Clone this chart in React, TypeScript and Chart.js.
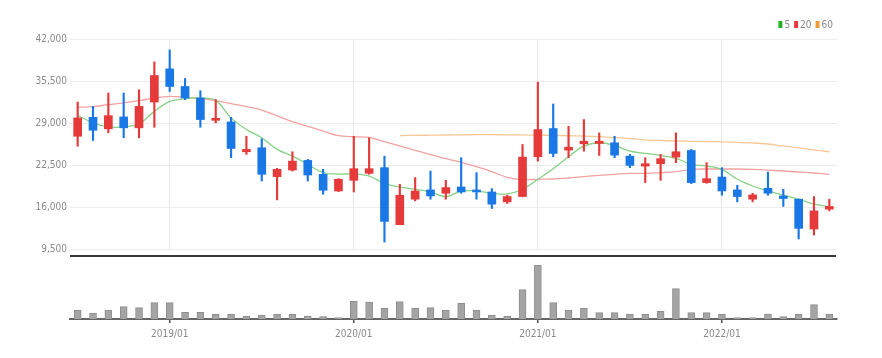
import { useEffect, useRef } from 'react';
import { Chart, registerables } from 'chart.js';

Chart.register(...registerables);

const months = [
  '2018/07', '2018/08', '2018/09', '2018/10', '2018/11', '2018/12',
  '2019/01', '2019/02', '2019/03', '2019/04', '2019/05', '2019/06', '2019/07', '2019/08', '2019/09', '2019/10', '2019/11', '2019/12',
  '2020/01', '2020/02', '2020/03', '2020/04', '2020/05', '2020/06', '2020/07', '2020/08', '2020/09', '2020/10', '2020/11', '2020/12',
  '2021/01', '2021/02', '2021/03', '2021/04', '2021/05', '2021/06', '2021/07', '2021/08', '2021/09', '2021/10', '2021/11', '2021/12',
  '2022/01', '2022/02', '2022/03', '2022/04', '2022/05', '2022/06', '2022/07', '2022/08',
];

const opens = [26950, 29880, 28090, 29940, 28250, 32250, 37380, 34650, 32870, 29420, 29170, 24550, 25170, 20700, 21720, 23210, 21060, 18480, 20130, 21210, 22090, 13260, 17210, 18640, 18130, 19100, 18640, 18330, 16790, 17620, 23780, 28140, 24800, 25780, 25830, 25940, 23870, 22330, 22700, 23720, 24750, 19780, 20640, 18640, 17210, 18900, 17710, 17210, 12590, 15670];
const closes = [29790, 27880, 30140, 28250, 31570, 36350, 34650, 32870, 29530, 29680, 25060, 24910, 21060, 21830, 23100, 20950, 18590, 20290, 21930, 21930, 13770, 17820, 18480, 17710, 19010, 18330, 18330, 16440, 17620, 23720, 27990, 24290, 25260, 26180, 26180, 24030, 22440, 22700, 23470, 24550, 19780, 20390, 18480, 17620, 17870, 18130, 17310, 12690, 15400, 16080];
const highs = [32250, 31570, 33640, 33640, 34150, 38460, 40310, 35890, 33990, 32610, 29880, 26950, 26550, 21980, 24550, 23370, 21830, 20390, 26950, 26710, 23870, 19520, 20550, 21560, 20130, 23630, 21320, 18850, 17830, 25680, 35330, 31940, 28490, 29530, 27480, 26950, 24140, 23630, 24140, 27480, 24910, 22860, 22090, 19360, 18130, 21410, 18750, 17210, 17620, 17210];
const lows = [25410, 26290, 27480, 26710, 26710, 28340, 33880, 32610, 28340, 29020, 23630, 24140, 20020, 17100, 21560, 20020, 17980, 18390, 18330, 21060, 10580, 13260, 16950, 17210, 17210, 18130, 17210, 15770, 16540, 17570, 23100, 23780, 23630, 24640, 23980, 23630, 22090, 19780, 20130, 22860, 19620, 19670, 17820, 16790, 16790, 17820, 16080, 11050, 11660, 15400];

const ma5 = [30190, 29020, 28400, 28400, 28860, 30800, 32340, 32760, 32870, 32500, 29790, 27990, 26710, 24910, 23870, 22600, 21310, 21100, 21100, 20790, 19670, 19100, 18750, 18330, 17590, 18440, 18480, 18130, 18020, 18750, 20290, 21930, 23780, 25410, 25940, 25520, 24640, 24290, 23980, 23520, 22600, 22330, 21830, 20290, 19250, 18480, 17820, 17210, 16440, 16080];
const ma20 = [31420, 31530, 31840, 32100, 32450, 32870, 33120, 32960, 32760, 32450, 31990, 31530, 31000, 30100, 29230, 28480, 27750, 27030, 26860, 26780, 26110, 25450, 24780, 24120, 23480, 22900, 22240, 21470, 20590, 20240, 20290, 20330, 20490, 20700, 20900, 21060, 21210, 21210, 21310, 21470, 21830, 21880, 21880, 21880, 21830, 21720, 21570, 21420, 21260, 21060];
const ma60 = [null, null, null, null, null, null, null, null, null, null, null, null, null, null, null, null, null, null, null, null, null, 27060, 27090, 27120, 27140, 27170, 27190, 27190, 27170, 27150, 27120, 27090, 27030, 26970, 26880, 26750, 26600, 26400, 26290, 26220, 26170, 26140, 26090, 26000, 25910, 25750, 25450, 25140, 24830, 24550];

const volumes = [900, 600, 900, 1230, 1130, 1630, 1630, 670, 670, 470, 470, 300, 400, 470, 470, 300, 230, 130, 1770, 1700, 1070, 1730, 1070, 1130, 900, 1570, 900, 400, 300, 2930, 5370, 1630, 900, 1070, 630, 630, 500, 470, 770, 3030, 630, 630, 470, 130, 130, 500, 230, 470, 1430, 500];

const priceTicks = [9500, 16000, 22500, 29000, 35500, 42000];
const legendItems = [
  { label: '5', color: '#22b022' },
  { label: '20', color: '#e8383d' },
  { label: '60', color: '#f39a3c' },
];

const FONT = "'Liberation Sans Narrow', 'DejaVu Sans Condensed', 'Liberation Sans', sans-serif";
const UP = '#e63a3a';
const DOWN = '#1a78e6';

export default function App() {
  const priceRef = useRef<HTMLCanvasElement>(null);
  const volRef = useRef<HTMLCanvasElement>(null);

  useEffect(() => {
    document.body.style.margin = '0';
    const isJan = (i: number) => !!months[i] && months[i].endsWith('/01');
    const colors = months.map((_, i) => (closes[i] >= opens[i] ? UP : DOWN));

    const extras = {
      id: 'extras',
      afterDraw(chart: any) {
        const { ctx, chartArea } = chart;
        ctx.save();
        ctx.strokeStyle = '#383838';
        ctx.lineWidth = 2;
        ctx.beginPath();
        ctx.moveTo(chartArea.left, chartArea.bottom + 7);
        ctx.lineTo(chartArea.right - 1, chartArea.bottom + 7);
        ctx.stroke();
        // legend
        ctx.font = `10px ${FONT}`;
        ctx.textBaseline = 'middle';
        const boxW = 4;
        const gapBox = 2;
        const gapItem = 4;
        let total = 0;
        legendItems.forEach((it, k) => {
          total += boxW + gapBox + ctx.measureText(it.label).width + (k < legendItems.length - 1 ? gapItem : 0);
        });
        let x = 833 - total;
        legendItems.forEach((it) => {
          ctx.fillStyle = it.color;
          ctx.fillRect(x, 21, boxW, 7);
          x += boxW + gapBox;
          ctx.fillStyle = '#8a8a8a';
          ctx.fillText(it.label, x, 25);
          x += ctx.measureText(it.label).width + gapItem;
        });
        ctx.restore();
      },
    };

    const price = new Chart(priceRef.current as HTMLCanvasElement, {
      type: 'bar',
      data: {
        labels: months,
        datasets: [
          {
            type: 'bar',
            label: 'body',
            data: months.map((_, i) => [Math.min(opens[i], closes[i]), Math.max(opens[i], closes[i])]) as any,
            backgroundColor: colors,
            barThickness: 8,
            minBarLength: 2,
            grouped: false,
            order: 0,
          } as any,
          {
            type: 'bar',
            label: 'wick',
            data: months.map((_, i) => [lows[i], highs[i]]) as any,
            backgroundColor: colors,
            barThickness: 1.5,
            grouped: false,
            order: 1,
          } as any,
          {
            type: 'line',
            label: '5',
            data: ma5,
            borderColor: '#85d285',
            borderWidth: 1.3,
            pointRadius: 0,
            tension: 0.35,
            order: 2,
          },
          {
            type: 'line',
            label: '20',
            data: ma20,
            borderColor: '#f3a2a2',
            borderWidth: 1.3,
            pointRadius: 0,
            tension: 0.35,
            order: 3,
          },
          {
            type: 'line',
            label: '60',
            data: ma60 as any,
            borderColor: '#f7c897',
            borderWidth: 1.3,
            pointRadius: 0,
            tension: 0.35,
            order: 4,
          },
        ],
      },
      options: {
        responsive: false,
        animation: false,
        devicePixelRatio: 1,
        layout: { padding: { top: 39, right: 45, bottom: 8, left: 0 } },
        plugins: { legend: { display: false }, tooltip: { enabled: false } },
        scales: {
          x: {
            type: 'category',
            offset: true,
            grid: {
              offset: false,
              drawTicks: false,
              color: (c: any) => (isJan(c.index) ? '#e8e8e8' : 'rgba(0,0,0,0)'),
            },
            ticks: { display: false, autoSkip: false },
            border: { display: false },
            afterFit: (s: any) => {
              s.height = 0;
            },
          },
          y: {
            min: 9500,
            max: 42000,
            afterBuildTicks: (s: any) => {
              s.ticks = priceTicks.map((v) => ({ value: v }));
            },
            ticks: {
              color: '#8a8a8a',
              font: { family: FONT, size: 10 },
              padding: 3,
              callback: (v: any) => Number(v).toLocaleString('en-US'),
            },
            grid: { color: '#ececec', drawTicks: false },
            border: { display: false },
            afterFit: (s: any) => {
              s.width = 70;
            },
          },
        },
      },
      plugins: [extras],
    } as any);

    const vol = new Chart(volRef.current as HTMLCanvasElement, {
      type: 'bar',
      data: {
        labels: months,
        datasets: [
          {
            label: 'volume',
            data: volumes,
            backgroundColor: '#a4a4a4',
            borderColor: '#8e8e8e',
            borderWidth: 1,
            barThickness: 7,
          },
        ],
      },
      options: {
        responsive: false,
        animation: false,
        devicePixelRatio: 1,
        layout: { padding: { top: 4, right: 45, bottom: 0, left: 70 } },
        plugins: { legend: { display: false }, tooltip: { enabled: false } },
        scales: {
          x: {
            offset: true,
            grid: {
              offset: false,
              drawOnChartArea: false,
              drawTicks: true,
              tickLength: 4,
              lineWidth: 1.5,
              color: (c: any) => (isJan(c.index) ? '#555555' : 'rgba(0,0,0,0)'),
            },
            border: { display: true, color: '#666666', width: 2 },
            ticks: {
              autoSkip: false,
              maxRotation: 0,
              color: '#8a8a8a',
              font: { family: FONT, size: 10 },
              padding: 5,
              callback: (_v: any, i: number) => (isJan(i) ? months[i] : ''),
            },
            afterFit: (s: any) => {
              s.height = 39;
            },
          },
          y: { display: false, min: 0, max: 5700 },
        },
      },
    } as any);

    return () => {
      price.destroy();
      vol.destroy();
    };
  }, []);

  return (
    <div style={{ width: 882, height: 358, background: '#fff' }}>
      <canvas ref={priceRef} width={882} height={258} style={{ display: 'block' }} />
      <canvas ref={volRef} width={882} height={100} style={{ display: 'block' }} />
    </div>
  );
}
